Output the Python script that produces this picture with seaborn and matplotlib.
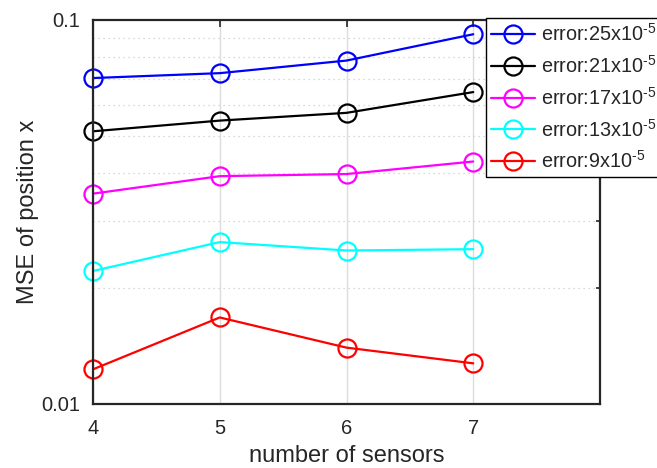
import numpy as np
import pandas as pd
import matplotlib
matplotlib.use("Agg")
import matplotlib.pyplot as plt
import seaborn as sns

# data
sensors = [4, 5, 6, 7]
err_labels = [r'error:25x10$^{\text{-5}}$', r'error:21x10$^{\text{-5}}$',
              r'error:17x10$^{\text{-5}}$', r'error:13x10$^{\text{-5}}$',
              r'error:9x10$^{\text{-5}}$']
mse_25 = [0.0706, 0.0727, 0.0784, 0.0918]
mse_21 = [0.0513, 0.0547, 0.0573, 0.0649]
mse_17 = [0.0353, 0.0392, 0.0397, 0.0428]
mse_13 = [0.0222, 0.0264, 0.0251, 0.0253]
mse_9 = [0.01231, 0.0168, 0.01402, 0.01276]
colors = ['#0000ff', '#000000', '#ff00ff', '#00ffff', '#ff0000']

series = [mse_25, mse_21, mse_17, mse_13, mse_9]
df = pd.concat([pd.DataFrame({'sensors': sensors, 'mse': s, 'error': lab})
                for s, lab in zip(series, err_labels)], ignore_index=True)

sns.set_style("white")
plt.rcParams['font.family'] = ['Liberation Sans', 'DejaVu Sans']
plt.rcParams['mathtext.fontset'] = 'custom'
plt.rcParams['mathtext.rm'] = 'Liberation Sans'
plt.rcParams['mathtext.default'] = 'regular'

fig = plt.figure(figsize=(6.57, 4.68), dpi=100)
ax = fig.add_axes([0.1416, 0.1368, 0.7716, 0.8205])

for lab, col in zip(err_labels, colors):
    sns.lineplot(data=df[df['error'] == lab], x='sensors', y='mse', ax=ax,
                 color=col, label=lab, marker='o', markersize=13,
                 markerfacecolor='none', markeredgecolor=col, markeredgewidth=1.6,
                 linewidth=1.6, clip_on=False)

ax.set_yscale('log')
ax.set_xlim(4, 8)
ax.set_ylim(0.01, 0.1)
ax.set_xticks([4, 5, 6, 7])
ax.set_yticks([0.01, 0.1])
ax.set_yticklabels(['0.01', '0.1'])
ax.yaxis.set_minor_locator(matplotlib.ticker.LogLocator(base=10, subs=np.arange(2, 10)))
ax.yaxis.set_minor_formatter(matplotlib.ticker.NullFormatter())

ax.grid(True, axis='x', which='major', color='#dcdcdc', linewidth=1, linestyle='-')
ax.grid(True, axis='y', which='minor', color='#cccccc', linewidth=0.9, linestyle=(0, (1, 3)))
ax.set_axisbelow(True)

ax.tick_params(which='both', direction='in', top=True, right=True,
               colors='#262626', labelsize=14.5, width=1.2)
ax.tick_params(axis='x', pad=11)
ax.tick_params(axis='y', pad=9)
ax.tick_params(which='major', length=5)
ax.tick_params(which='minor', length=3)
for sp in ax.spines.values():
    sp.set_color('#262626')
    sp.set_linewidth(1.6)

ax.set_xlabel('number of sensors', fontsize=17, color='#262626', labelpad=4.5)
ax.set_ylabel('MSE of position x', fontsize=17, color='#262626', labelpad=1.5)

leg = ax.legend(loc='upper left', bbox_to_anchor=(0.7397, 0.9615),
                bbox_transform=fig.transFigure, fontsize=14.3, frameon=True,
                fancybox=False, edgecolor='#000000', framealpha=1,
                handlelength=2.2, handletextpad=0.3, labelspacing=0.5,
                borderpad=0.25, borderaxespad=0)
leg.get_frame().set_linewidth(1.0)

fig.savefig('out.png', dpi=100)
